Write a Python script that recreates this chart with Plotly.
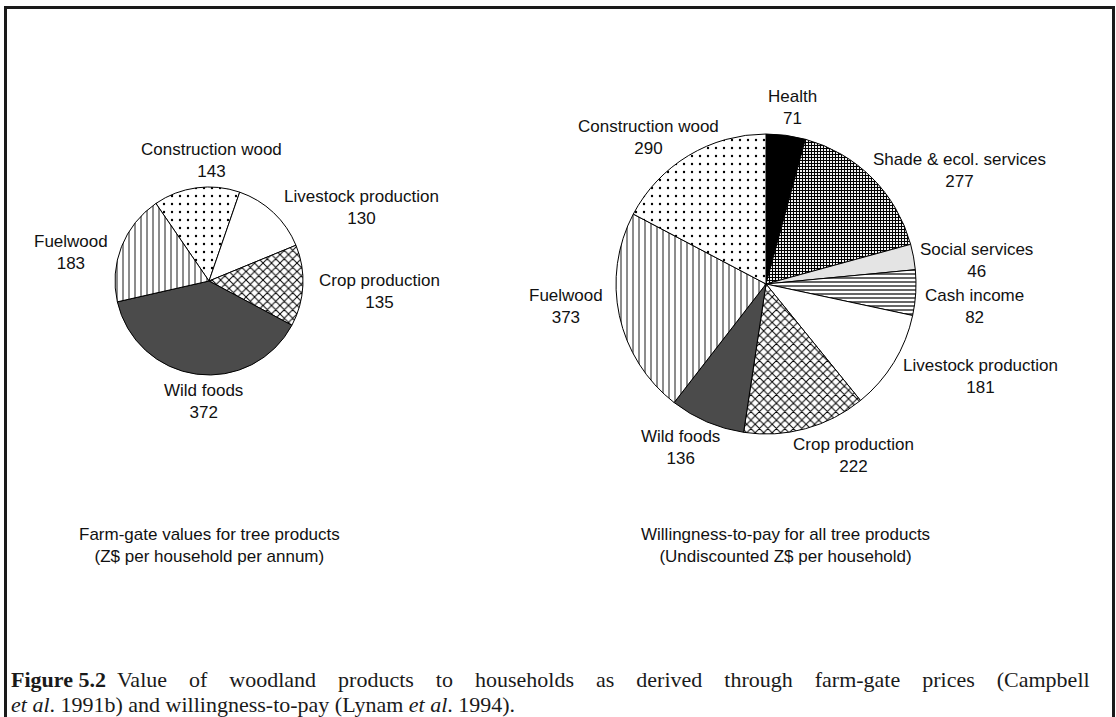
import plotly.graph_objects as go

# ---------------- data ----------------
left_labels = ["Construction wood", "Livestock production", "Crop production", "Wild foods", "Fuelwood"]
left_values = [143, 130, 135, 372, 183]

right_labels = ["Health", "Shade & ecol. services", "Social services", "Cash income",
                "Livestock production", "Crop production", "Wild foods", "Fuelwood", "Construction wood"]
right_values = [71, 277, 46, 82, 181, 222, 136, 373, 290]

left_title = "Farm-gate values for tree products<br>(Z$ per household per annum)"
right_title = "Willingness-to-pay for all tree products<br>(Undiscounted Z$ per household)"

caption_line1_words = ["<b>Figure</b>", "<b>5.2</b>", "Value", "of", "woodland", "products", "to",
                       "households", "as", "derived", "through", "farm-gate", "prices", "(Campbell"]
caption_line2 = "<i>et al</i>. 1991b) and willingness-to-pay (Lynam <i>et al</i>. 1994)."

# ---------------- styles ----------------
W, H = 1116, 717
def px(x):
    return x / W
def py(y):
    return 1 - y / H

STYLE = {
    "Construction wood":      dict(color="white",   shape=".", size=8, solidity=0.07),
    "Livestock production":   dict(color="white",   shape="",  size=8, solidity=0.1),
    "Crop production":        dict(color="white",   shape="x", size=6, solidity=0.3),
    "Wild foods":             dict(color="#4b4b4b", shape="",  size=8, solidity=0.1),
    "Fuelwood":               dict(color="white",   shape="|", size=6, solidity=0.15),
    "Health":                 dict(color="black",   shape="",  size=8, solidity=0.1),
    "Shade & ecol. services": dict(color="white",   shape="+", size=3, solidity=0.6),
    "Social services":        dict(color="#e4e4e4", shape="",  size=8, solidity=0.1),
    "Cash income":            dict(color="white",   shape="-", size=4, solidity=0.3),
}

def marker_for(labels):
    st = [STYLE[l] for l in labels]
    return dict(
        colors=[s["color"] for s in st],
        line=dict(color="black", width=1),
        pattern=dict(
            shape=[s["shape"] for s in st],
            size=[s["size"] for s in st],
            solidity=[s["solidity"] for s in st],
            fgcolor="black",
            bgcolor=[s["color"] for s in st],
            fillmode="replace",
        ),
    )

# pie geometry (pixels)
L_C, L_R = (209, 281), 94
R_C, R_R = (766, 284), 150

def domain(c, r):
    return dict(x=[px(c[0] - r), px(c[0] + r)], y=[py(c[1] + r), py(c[1] - r)])

fig = go.Figure()
fig.add_trace(go.Pie(
    labels=left_labels, values=left_values, sort=False, direction="clockwise",
    rotation=-34.4, textinfo="none", hoverinfo="label+value",
    marker=marker_for(left_labels), domain=domain(L_C, L_R), showlegend=False,
))
fig.add_trace(go.Pie(
    labels=right_labels, values=right_values, sort=False, direction="clockwise",
    rotation=0, textinfo="none", hoverinfo="label+value",
    marker=marker_for(right_labels), domain=domain(R_C, R_R), showlegend=False,
))

# label placement (pixel centres of two-line text blocks)
left_pos = {
    "Construction wood": (211, 161),
    "Livestock production": (361, 207),
    "Crop production": (379, 292),
    "Wild foods": (203, 401),
    "Fuelwood": (71, 253),
}
right_pos = {
    "Health": (792, 107),
    "Construction wood": (648, 137),
    "Shade & ecol. services": (959, 170),
    "Social services": (976, 260),
    "Cash income": (974, 306),
    "Livestock production": (980, 376),
    "Crop production": (853, 455),
    "Wild foods": (680, 447),
    "Fuelwood": (566, 307),
}

lab_font = dict(family="Liberation Sans, Arial, sans-serif", size=17, color="#111")
annotations = []
for labs, vals, pos in [(left_labels, left_values, left_pos), (right_labels, right_values, right_pos)]:
    for l, v in zip(labs, vals):
        x, y = pos[l]
        annotations.append(dict(
            text=f"{l}<br>{v}", x=px(x), y=py(y), xref="paper", yref="paper",
            showarrow=False, xanchor="center", yanchor="middle", align="center", font=lab_font,
        ))

annotations.append(dict(text=left_title, x=px(209), y=py(545), xref="paper", yref="paper",
                        showarrow=False, xanchor="center", yanchor="middle", align="center", font=lab_font))
annotations.append(dict(text=right_title, x=px(785), y=py(545), xref="paper", yref="paper",
                        showarrow=False, xanchor="center", yanchor="middle", align="center", font=lab_font))

# justified first caption line: widen word gaps evenly with non-breaking spaces
gaps = [1, 2] + [4] * 11
line1 = caption_line1_words[0]
for g, w in zip(gaps, caption_line1_words[1:]):
    line1 += "\u00a0" * g + w

cap_font = dict(family="Liberation Serif, Times New Roman, serif", size=22, color="#1a1a1a")
for i, line in enumerate([line1, caption_line2]):
    annotations.append(dict(text=line, x=px(9), y=py(679 + 25 * i), xref="paper", yref="paper",
                            showarrow=False, xanchor="left", yanchor="middle", align="left",
                            font=cap_font))

fig.update_layout(
    width=W, height=H, margin=dict(l=0, r=0, t=0, b=0),
    paper_bgcolor="white", plot_bgcolor="white",
    annotations=annotations,
    shapes=[dict(type="rect", xref="paper", yref="paper",
                 x0=px(5.5), x1=px(1113.5), y0=py(730), y1=py(7.5),
                 line=dict(color="#1a1a1a", width=3))],
)

fig.write_html("out.html", config={"displayModeBar": False},
               post_script="document.body.style.margin='0';")
